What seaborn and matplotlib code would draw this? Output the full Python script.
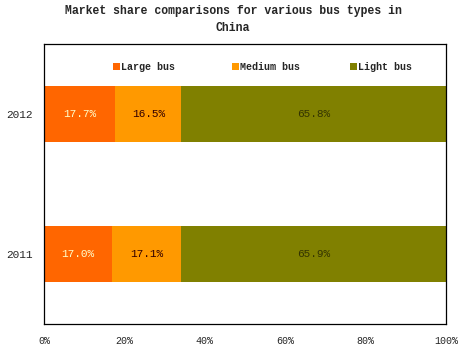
import matplotlib
matplotlib.use("Agg")
import matplotlib.pyplot as plt
import seaborn as sns
import pandas as pd
import numpy as np
from matplotlib.patches import Patch

years = ["2012", "2011"]
series = ["Large bus", "Medium bus", "Light bus"]
large = [17.7, 17.0]
medium = [16.5, 17.1]
light = [65.8, 65.9]
colors = ["#FF6600", "#FF9900", "#808000"]
label_colors = ["#FFFFCC", "#330000", "#333300"]
xticks = [0, 20, 40, 60, 80, 100]
xticklabels = ["0%", "20%", "40%", "60%", "80%", "100%"]

sns.set_style("white")
plt.rcParams['font.family'] = ['Liberation Mono', 'DejaVu Sans Mono']

vals = np.array([large, medium, light])
cum = np.cumsum(vals, axis=0)

fig = plt.figure(figsize=(4.66, 3.5), dpi=100)
ax = fig.add_axes([44/466, 26/350, 402/466, 280/350])

# draw cumulative bars from largest to smallest so they stack visually
for i in reversed(range(3)):
    df = pd.DataFrame({"year": years, "value": cum[i]})
    sns.barplot(data=df, x="value", y="year", orient="h", color=colors[i],
                width=0.4, saturation=1, ax=ax, linewidth=0)

for j in range(len(years)):
    start = 0
    for i in range(3):
        v = vals[i][j]
        ax.text(start + v / 2, j, f"{v:.1f}%", ha="center", va="center",
                fontsize=8, color=label_colors[i])
        start += v

ax.set_xlim(0, 100)
ax.set_ylim(1.5, -0.5)
ax.set_xticks(xticks)
ax.set_xticklabels(xticklabels, fontsize=7.2)
ax.set_yticks([0, 1])
ax.set_yticklabels(years, fontsize=8)
ax.set_yticks([0.5], minor=True)
ax.tick_params(axis="y", which="major", length=0, pad=8)
ax.tick_params(axis="y", which="minor", length=3, width=0.8, color="black", direction="in")
ax.tick_params(axis="x", which="major", length=3, width=0.8, color="black", direction="in", pad=9)
ax.set_xlabel("")
ax.set_ylabel("")
for s in ax.spines.values():
    s.set_visible(True)
    s.set_color("black")
    s.set_linewidth(0.9)

hs = [Patch(facecolor=colors[i], edgecolor="none") for i in range(3)]
leg_labels = [s.ljust(10) for s in series]
leg = ax.legend(hs, leg_labels, loc="center left", bbox_to_anchor=((113 - 44) / 402, 0.918),
                ncol=3, frameon=False, borderpad=0, borderaxespad=0,
                handlelength=0.7, handleheight=0.7, handletextpad=0.1,
                columnspacing=5.05, prop={"size": 7.2, "weight": "bold"})

fig.text(0.5, 0.985, "Market share comparisons for various bus types in\nChina",
         ha="center", va="top", fontsize=8.3, fontweight="bold", linespacing=1.5)

fig.savefig("out.png", dpi=100)
